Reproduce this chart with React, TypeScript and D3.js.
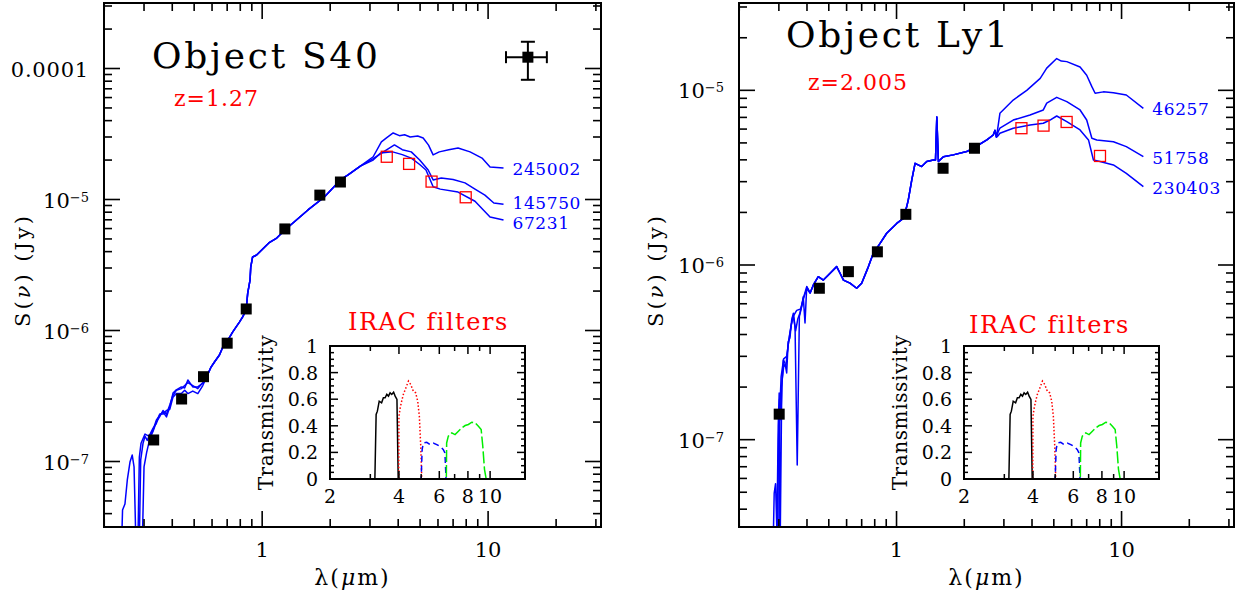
import * as d3 from "d3";

type Pt = [number, number];
type Model = { name: string; head: Pt[]; tail: Pt[] };

const FONT = "'DejaVu Serif', 'Liberation Serif', serif";
const BLUE = "#0000ff";
const RED = "#ff0000";

// wavelength range (micron) shared by both SED panels
const lamDomain: Pt = [0.1995, 31.6];
const lamTickLabels = [1, 10];

// ---------- Object S40, z = 1.27 ----------
const s40Photometry: Pt[] = [
  [0.331, 1.46e-7], [0.44, 3.0e-7], [0.55, 4.44e-7], [0.7, 8.0e-7],
  [0.85, 1.46e-6], [1.26, 5.96e-6], [1.8, 1.08e-5], [2.22, 1.36e-5],
];
const s40Irac: Pt[] = [[3.56, 2.12e-5], [4.47, 1.87e-5], [5.62, 1.37e-5], [7.96, 1.04e-5]];

const s40Shared: Pt[] = [
  [0.565, 4.34e-7], [0.594, 5.26e-7], [0.615, 5.75e-7], [0.647, 6.5e-7], [0.67, 7.48e-7],
  [0.705, 8.46e-7], [0.741, 9.75e-7], [0.793, 1.16e-6], [0.82, 1.27e-6], [0.849, 1.43e-6],
  [0.863, 1.93e-6], [0.884, 2.43e-6], [0.89, 3.05e-6], [0.907, 3.64e-6], [0.945, 3.77e-6],
  [1.07, 4.66e-6], [1.16, 5.08e-6], [1.26, 5.85e-6], [1.595, 8.32e-6], [1.88, 1.04e-5],
  [2.22, 1.41e-5], [2.4, 1.54e-5], [2.72, 1.8e-5],
];

const s40Models: Model[] = [
  {
    name: "245002",
    head: [
      [0.239, 2.5e-8], [0.241, 4.27e-8], [0.247, 4.74e-8], [0.253, 7.23e-8], [0.26, 9.9e-8],
      [0.266, 1.12e-7], [0.271, 9.1e-8], [0.276, 2.5e-8], [0.282, 2.5e-8], [0.286, 1.08e-7],
      [0.291, 1.38e-7], [0.303, 1.62e-7], [0.318, 1.55e-7], [0.329, 1.74e-7], [0.34, 2.07e-7],
      [0.352, 2.26e-7], [0.364, 2.39e-7], [0.377, 2.19e-7], [0.39, 2.61e-7], [0.403, 3.33e-7],
      [0.417, 3.52e-7], [0.439, 3.71e-7], [0.454, 3.64e-7], [0.469, 4.19e-7], [0.493, 3.71e-7],
      [0.519, 3.71e-7], [0.546, 3.97e-7],
    ],
    tail: [
      [3.1, 2.12e-5], [3.37, 2.75e-5], [3.55, 2.95e-5], [3.8, 3.22e-5], [4.05, 3.07e-5],
      [4.27, 3.12e-5], [4.52, 3.0e-5], [4.88, 3.05e-5], [5.16, 2.95e-5], [5.45, 2.6e-5],
      [5.71, 2.19e-5], [6.08, 2.31e-5], [6.7, 2.4e-5], [7.36, 2.47e-5], [8.32, 2.31e-5],
      [9.4, 2.07e-5], [10.2, 1.77e-5], [11.7, 1.74e-5],
    ],
  },
  {
    name: "145750",
    head: [
      [0.286, 2.5e-8], [0.29, 1.03e-7], [0.297, 1.38e-7], [0.303, 1.56e-7], [0.31, 1.45e-7],
      [0.318, 1.6e-7], [0.329, 1.8e-7], [0.34, 1.95e-7], [0.352, 2.3e-7], [0.364, 2.3e-7],
      [0.377, 2.45e-7], [0.39, 2.5e-7], [0.403, 3.1e-7], [0.417, 3.3e-7], [0.439, 3.3e-7],
      [0.454, 3.5e-7], [0.469, 3.3e-7], [0.493, 3.45e-7], [0.519, 3.3e-7], [0.546, 3.8e-7],
    ],
    tail: [
      [3.1, 2.05e-5], [3.44, 2.31e-5], [3.85, 2.61e-5], [4.17, 2.4e-5], [4.57, 2.31e-5],
      [4.98, 2.0e-5], [5.43, 1.68e-5], [5.71, 1.41e-5], [6.2, 1.46e-5], [7.0, 1.42e-5],
      [7.9, 1.34e-5], [8.75, 1.2e-5], [9.68, 1.08e-5], [10.6, 9.4e-6], [11.7, 9.2e-6],
    ],
  },
  {
    name: "67231",
    head: [
      [0.295, 2.5e-8], [0.3, 9.1e-8], [0.308, 1.17e-7], [0.318, 1.49e-7], [0.329, 1.7e-7],
      [0.34, 2.0e-7], [0.352, 2.2e-7], [0.364, 2.45e-7], [0.377, 2.3e-7], [0.39, 2.7e-7],
      [0.403, 3.2e-7], [0.417, 3.5e-7], [0.439, 3.6e-7], [0.454, 3.8e-7], [0.469, 4.0e-7],
      [0.493, 3.8e-7], [0.519, 3.6e-7], [0.546, 4.0e-7],
    ],
    tail: [
      [3.1, 2.0e-5], [3.34, 2.26e-5], [3.78, 2.31e-5], [4.17, 2.2e-5], [4.57, 2.07e-5],
      [4.98, 1.85e-5], [5.31, 1.68e-5], [5.71, 1.25e-5], [6.14, 1.2e-5], [7.36, 1.14e-5],
      [8.75, 9.7e-6], [10.2, 7.35e-6], [11.7, 6.97e-6],
    ],
  },
];

const s40YLabelValues = [1e-4, 1e-5, 1e-6, 1e-7];
const s40YLabels = ["0.0001", "10^-5", "10^-6", "10^-7"];
// typical error bar: [lo, mid, hi]
const s40ErrLam = [12.0, 15.0, 18.2];
const s40ErrFlux = [8.2e-5, 1.22e-4, 1.6e-4];

// ---------- Object Ly1, z = 2.005 ----------
const ly1Photometry: Pt[] = [
  [0.301, 1.4e-7], [0.454, 7.36e-7], [0.611, 9.16e-7], [0.822, 1.19e-6],
  [1.1, 1.95e-6], [1.61, 3.58e-6], [2.22, 4.66e-6],
];
const ly1Irac: Pt[] = [[3.59, 6.07e-6], [4.5, 6.28e-6], [5.7, 6.59e-6], [8.02, 4.21e-6]];

const ly1Shared: Pt[] = [
  [0.413, 6.92e-7], [0.427, 7.69e-7], [0.449, 8.57e-7], [0.473, 8.2e-7], [0.498, 8.77e-7],
  [0.542, 9.79e-7], [0.561, 8.97e-7], [0.581, 8.2e-7], [0.621, 7.87e-7], [0.665, 7.36e-7],
  [0.7, 7.87e-7], [0.75, 9.79e-7], [0.789, 1.17e-6], [0.845, 1.33e-6], [0.904, 1.52e-6],
  [1.002, 1.73e-6], [1.072, 1.85e-6], [1.11, 2.16e-6], [1.128, 2.36e-6], [1.169, 3.07e-6],
  [1.209, 3.82e-6], [1.294, 3.66e-6], [1.362, 3.91e-6], [1.458, 3.99e-6], [1.49, 3.99e-6],
  [1.51, 7.03e-6], [1.535, 3.91e-6], [1.615, 4.17e-6], [1.787, 4.27e-6], [2.05, 4.46e-6],
  [2.19, 4.66e-6], [2.52, 5.2e-6], [2.69, 5.55e-6], [2.74, 5.9e-6], [2.78, 5.4e-6],
];

const ly1Models: Model[] = [
  {
    name: "46257",
    head: [
      [0.283, 2.5e-8], [0.286, 4.95e-8], [0.29, 5.6e-8], [0.294, 3.0e-8], [0.298, 1.2e-7],
      [0.301, 1.85e-7], [0.304, 2.5e-8], [0.309, 2.0e-7], [0.312, 2.41e-7], [0.314, 2.86e-7],
      [0.319, 2.75e-7], [0.325, 2.41e-7], [0.33, 3.64e-7], [0.336, 3.82e-7], [0.342, 4.84e-7],
      [0.348, 5.29e-7], [0.354, 4.44e-7], [0.362, 7.16e-8], [0.37, 5.06e-7], [0.379, 5.78e-7],
      [0.385, 6.59e-7], [0.392, 4.66e-7], [0.399, 7.52e-7],
    ],
    tail: [
      [2.83, 6.3e-6], [2.88, 7.39e-6], [3.3, 8.8e-6], [3.79, 1.0e-5], [4.35, 1.17e-5],
      [4.65, 1.34e-5], [5.15, 1.52e-5], [5.4, 1.47e-5], [5.71, 1.46e-5], [6.54, 1.36e-5],
      [7.0, 1.22e-5], [7.38, 1.05e-5], [7.63, 9.62e-6], [8.3, 9.8e-6], [9.2, 9.7e-6],
      [10.5, 9.4e-6], [12.5, 7.89e-6],
    ],
  },
  {
    name: "51758",
    head: [
      [0.296, 2.5e-8], [0.299, 1.0e-7], [0.302, 1.7e-7], [0.306, 1.3e-7], [0.31, 2.2e-7],
      [0.316, 2.7e-7], [0.322, 2.6e-7], [0.33, 3.5e-7], [0.34, 4.5e-7], [0.348, 5.1e-7],
      [0.356, 4.2e-7], [0.364, 4.9e-7], [0.372, 5.3e-7], [0.385, 6.4e-7], [0.399, 7.3e-7],
    ],
    tail: [
      [2.83, 5.8e-6], [2.88, 6.07e-6], [3.3, 6.76e-6], [3.92, 7.22e-6], [4.49, 7.72e-6],
      [4.65, 8.44e-6], [5.15, 9.12e-6], [5.71, 8.61e-6], [6.54, 7.72e-6], [7.0, 6.76e-6],
      [7.38, 5.32e-6], [7.76, 5.2e-6], [9.2, 5.08e-6], [10.5, 4.76e-6], [12.5, 4.17e-6],
    ],
  },
  {
    name: "230403",
    head: [
      [0.3, 2.5e-8], [0.303, 1.5e-7], [0.307, 2.3e-7], [0.315, 2.9e-7], [0.325, 3.0e-7],
      [0.335, 4.0e-7], [0.345, 5.0e-7], [0.36, 5.5e-7], [0.375, 5.6e-7], [0.39, 6.8e-7],
      [0.399, 7.5e-7],
    ],
    tail: [
      [2.83, 5.5e-6], [2.88, 5.68e-6], [3.3, 6.07e-6], [3.92, 6.34e-6], [4.49, 6.48e-6],
      [4.81, 6.76e-6], [5.15, 7.13e-6], [5.71, 6.62e-6], [6.54, 5.93e-6], [7.13, 5.2e-6],
      [7.5, 3.99e-6], [8.02, 3.91e-6], [9.2, 3.74e-6], [10.5, 3.35e-6], [12.5, 2.81e-6],
    ],
  },
];

const ly1YLabelValues = [1e-5, 1e-6, 1e-7];
const ly1YLabels = ["10^-5", "10^-6", "10^-7"];

// ---------- IRAC filter transmission curves (inset) ----------
const insetLamDomain: Pt = [2, 14.2];
const insetXLabels = [2, 4, 6, 8, 10];
const insetYLabels = ["0", "0.2", "0.4", "0.6", "0.8", "1"];

const irac1: Pt[] = [
  [3.0, 0], [3.14, 0], [3.18, 0.485], [3.22, 0.51], [3.28, 0.585], [3.36, 0.573], [3.42, 0.61],
  [3.48, 0.61], [3.54, 0.636], [3.6, 0.623], [3.66, 0.648], [3.72, 0.636], [3.79, 0.653],
  [3.85, 0.623], [3.92, 0.598], [3.97, 0], [4.0, 0],
];
const irac2: Pt[] = [
  [3.6, 0], [3.99, 0], [4.0, 0.472], [4.05, 0.535], [4.11, 0.585], [4.18, 0.636], [4.29, 0.686],
  [4.4, 0.736], [4.5, 0.711], [4.62, 0.661], [4.73, 0.648], [4.83, 0.585], [4.91, 0.472],
  [4.98, 0.246], [5.03, 0], [5.5, 0],
];
const irac3: Pt[] = [
  [4.4, 0], [5.0, 0], [5.05, 0.221], [5.11, 0.271], [5.29, 0.276], [5.47, 0.259], [5.65, 0.271],
  [5.85, 0.259], [6.04, 0.246], [6.25, 0.221], [6.35, 0.196], [6.42, 0], [6.6, 0],
];
const irac4: Pt[] = [
  [5.65, 0], [6.44, 0], [6.46, 0.271], [6.57, 0.322], [6.8, 0.347], [7.03, 0.334], [7.27, 0.359],
  [7.52, 0.384], [7.78, 0.402], [8.04, 0.41], [8.32, 0.427], [8.6, 0.422], [8.89, 0.397],
  [9.14, 0.372], [9.29, 0.246], [9.45, 0.073], [9.61, 0], [10.0, 0],
];

const filterStyles = [
  { pts: irac1, color: "#000000", dash: undefined },
  { pts: irac2, color: RED, dash: "1.5,2" },
  { pts: irac3, color: BLUE, dash: "6,4" },
  { pts: irac4, color: "#00ee00", dash: "12,3" },
];

// small vertical nudges for the model-name labels (layout only)
const s40LabelNudge = [0, -2, 2];
const ly1LabelNudge = [0, 0, 0];

const isDecade = (v: number) => Math.abs(Math.log10(v) - Math.round(Math.log10(v))) < 1e-6;

function PowerLabel({ x, y, text }: { x: number; y: number; text: string }) {
  const parts = text.split("^");
  if (parts.length === 1) {
    return (
      <text x={x} y={y} textAnchor="end" fontSize={21} letterSpacing={0.8}>
        {text}
      </text>
    );
  }
  return (
    <text x={x} y={y} textAnchor="end" fontSize={21}>
      <tspan>{parts[0]}</tspan>
      <tspan dy={-6} fontSize={13}>{parts[1].replace("-", "\u2212")}</tspan>
    </text>
  );
}

function Inset({ x0, x1, y0, y1, titleX, titleY }: any) {
  const xs = d3.scaleLog().domain(insetLamDomain).range([x0, x1]);
  const ys = d3.scaleLinear().domain([0, 1]).range([y1, y0]);
  const line = d3.line<Pt>().x((d) => xs(d[0])).y((d) => ys(d[1]));
  const xt = xs.ticks();
  const yt = ys.ticks(20);
  const yMajor = (v: number) => Math.abs(v * 5 - Math.round(v * 5)) < 1e-6;
  return (
    <g>
      {filterStyles.map((f, i) => (
        <path key={i} d={line(f.pts) ?? ""} fill="none" stroke={f.color} strokeWidth={1.5}
          strokeDasharray={f.dash} />
      ))}
      <g stroke="#000" strokeWidth={1.5}>
        {xt.map((v, i) => {
          const len = insetXLabels.includes(Math.round(v)) ? 8 : 5;
          return (
            <g key={i}>
              <line x1={xs(v)} x2={xs(v)} y1={y1} y2={y1 - len} />
              <line x1={xs(v)} x2={xs(v)} y1={y0} y2={y0 + len} />
            </g>
          );
        })}
        {yt.map((v, i) => {
          const len = yMajor(v) ? 8 : 4;
          return (
            <g key={i}>
              <line x1={x0} x2={x0 + len} y1={ys(v)} y2={ys(v)} />
              <line x1={x1} x2={x1 - len} y1={ys(v)} y2={ys(v)} />
            </g>
          );
        })}
      </g>
      <rect x={x0} y={y0} width={x1 - x0} height={y1 - y0} fill="none" stroke="#000" strokeWidth={2} />
      {insetXLabels.map((v) => (
        <text key={v} x={xs(v)} y={y1 + 24} textAnchor="middle" fontSize={19}>{v}</text>
      ))}
      {insetYLabels.map((t) => (
        <text key={t} x={x0 - 12} y={ys(+t) + 7} textAnchor="end" fontSize={19}>{t}</text>
      ))}
      <text transform={`translate(${x0 - 57},${(y0 + y1) / 2}) rotate(-90)`} textAnchor="middle"
        fontSize={20} letterSpacing={0.6}>
        Transmissivity
      </text>
      <text x={titleX} y={titleY} fill={RED} fontSize={24} letterSpacing={1.5}>IRAC filters</text>
    </g>
  );
}

function SedPanel(p: any) {
  const { x0, x1, y0, y1 } = p;
  const xs = d3.scaleLog().domain(lamDomain).range([x0, x1]);
  const ys = d3.scaleLog().domain(p.yDomain).range([y1, y0]);
  const line = d3.line<Pt>().x((d) => xs(d[0])).y((d) => ys(d[1]));
  const xt = xs.ticks();
  const yt = ys.ticks();
  const models: Model[] = p.models;

  return (
    <g>
      <defs>
        <clipPath id={p.clipId}>
          <rect x={x0} y={y0} width={x1 - x0} height={y1 - y0} />
        </clipPath>
      </defs>

      <g clipPath={`url(#${p.clipId})`} fill="none" stroke={BLUE} strokeWidth={1.5} strokeLinejoin="round">
        {models.map((m) => (
          <path key={m.name} d={line([...m.head, ...p.shared, ...m.tail]) ?? ""} />
        ))}
      </g>

      {models.map((m, i) => {
        const last = m.tail[m.tail.length - 1];
        return (
          <text key={m.name} x={xs(last[0]) + 9} y={ys(last[1]) + 7 + p.labelNudge[i]} fill={BLUE}
            fontSize={17} letterSpacing={0.6}>
            {m.name}
          </text>
        );
      })}

      {(p.irac as Pt[]).map((d, i) => (
        <rect key={i} x={xs(d[0]) - 5.5} y={ys(d[1]) - 5.5} width={11} height={11} fill="none"
          stroke={RED} strokeWidth={1.3} />
      ))}
      {(p.photometry as Pt[]).map((d, i) => (
        <rect key={i} x={xs(d[0]) - 5.5} y={ys(d[1]) - 5.5} width={11} height={11} fill="#000" />
      ))}

      {p.errLam && (
        <g stroke="#000" strokeWidth={2}>
          <line x1={xs(p.errLam[0])} x2={xs(p.errLam[2])} y1={ys(p.errFlux[1])} y2={ys(p.errFlux[1])} />
          <line x1={xs(p.errLam[1])} x2={xs(p.errLam[1])} y1={ys(p.errFlux[0])} y2={ys(p.errFlux[2])} />
          <line x1={xs(p.errLam[0])} x2={xs(p.errLam[0])} y1={ys(p.errFlux[1]) - 6} y2={ys(p.errFlux[1]) + 6} />
          <line x1={xs(p.errLam[2])} x2={xs(p.errLam[2])} y1={ys(p.errFlux[1]) - 6} y2={ys(p.errFlux[1]) + 6} />
          <line x1={xs(p.errLam[1]) - 7} x2={xs(p.errLam[1]) + 7} y1={ys(p.errFlux[0])} y2={ys(p.errFlux[0])} />
          <line x1={xs(p.errLam[1]) - 7} x2={xs(p.errLam[1]) + 7} y1={ys(p.errFlux[2])} y2={ys(p.errFlux[2])} />
          <rect x={xs(p.errLam[1]) - 5.5} y={ys(p.errFlux[1]) - 5.5} width={11} height={11} fill="#000" stroke="none" />
        </g>
      )}

      {/* frame and ticks */}
      <g stroke="#000" strokeWidth={1.6}>
        {xt.map((v, i) => {
          const len = isDecade(v) ? 16 : 8;
          return (
            <g key={i}>
              <line x1={xs(v)} x2={xs(v)} y1={y1} y2={y1 - len} />
              <line x1={xs(v)} x2={xs(v)} y1={y0} y2={y0 + len} />
            </g>
          );
        })}
        {yt.map((v, i) => {
          const len = isDecade(v) ? 16 : 8;
          return (
            <g key={i}>
              <line x1={x0} x2={x0 + len} y1={ys(v)} y2={ys(v)} />
              <line x1={x1} x2={x1 - len} y1={ys(v)} y2={ys(v)} />
            </g>
          );
        })}
      </g>
      <rect x={x0} y={y0} width={x1 - x0} height={y1 - y0} fill="none" stroke="#000" strokeWidth={2} />

      {lamTickLabels.map((v) => (
        <text key={v} x={xs(v)} y={y1 + 30} textAnchor="middle" fontSize={21}>{v}</text>
      ))}
      {(p.yLabelValues as number[]).map((v, i) => (
        <PowerLabel key={i} x={x0 - 15} y={ys(v) + 8} text={p.yLabels[i]} />
      ))}

      <text x={(x0 + x1) / 2} y={585} textAnchor="middle" fontSize={22} letterSpacing={2}>
        λ(<tspan fontStyle="italic">μ</tspan>m)
      </text>
      <text transform={`translate(${p.yTitleX},270) rotate(-90)`} textAnchor="middle" fontSize={21}
        letterSpacing={3}>
        S(<tspan fontStyle="italic">ν</tspan>) (Jy)
      </text>

      <text x={p.titleAt[0]} y={p.titleAt[1]} fontSize={36} letterSpacing={2.7}>{p.title}</text>
      <text x={p.zAt[0]} y={p.zAt[1]} fontSize={22} fill={RED} letterSpacing={1}>{p.z}</text>

      <Inset {...p.inset} />
    </g>
  );
}

export default function App() {
  return (
    <svg width={1236} height={597} viewBox="0 0 1236 597" fontFamily={FONT}
      style={{ position: "absolute", left: 0, top: 0, background: "#fff" }}>
      <rect width={1236} height={597} fill="#fff" />
      <SedPanel
        clipId="clipS40" x0={104} x1={601} y0={3} y1={527}
        yDomain={[10 ** -7.5, 10 ** -3.5]}
        yLabelValues={s40YLabelValues} yLabels={s40YLabels}
        models={s40Models} shared={s40Shared} labelNudge={s40LabelNudge}
        photometry={s40Photometry} irac={s40Irac}
        errLam={s40ErrLam} errFlux={s40ErrFlux}
        title="Object S40" titleAt={[152, 68]}
        z="z=1.27" zAt={[174, 106]}
        yTitleX={30}
        inset={{ x0: 330, x1: 525, y0: 346, y1: 479, titleX: 348, titleY: 330 }}
      />
      <SedPanel
        clipId="clipLy1" x0={739} x1={1234} y0={3} y1={527}
        yDomain={[10 ** -7.5, 10 ** -4.5]}
        yLabelValues={ly1YLabelValues} yLabels={ly1YLabels}
        models={ly1Models} shared={ly1Shared} labelNudge={ly1LabelNudge}
        photometry={ly1Photometry} irac={ly1Irac}
        title="Object Ly1" titleAt={[786, 47]}
        z="z=2.005" zAt={[808, 90]}
        yTitleX={663}
        inset={{ x0: 964, x1: 1159, y0: 346, y1: 479, titleX: 969, titleY: 333 }}
      />
    </svg>
  );
}
